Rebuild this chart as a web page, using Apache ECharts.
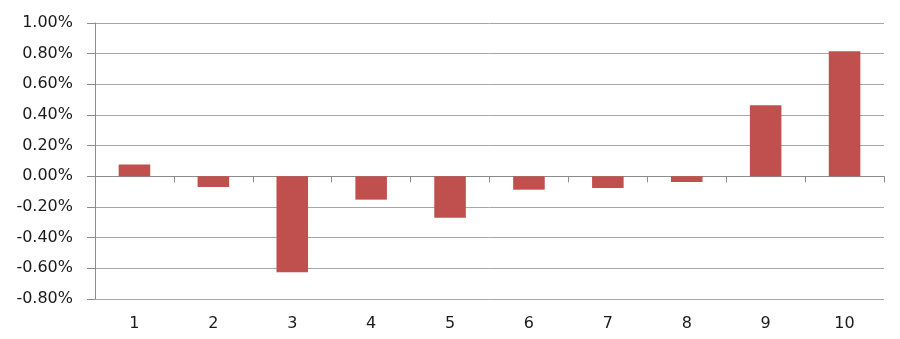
<!DOCTYPE html>
<html>
<head>
<meta charset="utf-8">
<script src="https://cdn.jsdelivr.net/npm/echarts@6/dist/echarts.min.js"></script>
<style>html,body{margin:0;padding:0;background:#fff;}#chart{width:900px;height:339px;}</style>
</head>
<body>
<div id="chart"></div>
<script>
var categories = ['1','2','3','4','5','6','7','8','9','10'];
var values = [0.077, -0.07, -0.625, -0.152, -0.27, -0.087, -0.076, -0.037, 0.463, 0.815];
var yMin = -0.8, yMax = 1.0, yStep = 0.2;

var chart = echarts.init(document.getElementById('chart'));
var font = 'DejaVu Sans';
chart.setOption({
  animation: false,
  grid: { left: 95, right: 16, top: 23, bottom: 40 },
  xAxis: [
    {
      type: 'category', data: categories, boundaryGap: true,
      axisLine: { onZero: true, lineStyle: { color: '#8c8c8c', width: 1 } },
      axisTick: { show: true, length: 6, inside: false, lineStyle: { color: '#8c8c8c' } },
      axisLabel: { show: false },
      splitLine: { show: false }
    },
    {
      type: 'category', data: categories, position: 'bottom', boundaryGap: true,
      axisLine: { show: false, onZero: false },
      axisTick: { show: false },
      axisLabel: { show: true, margin: 17, color: '#1a1a1a', fontSize: 16, fontFamily: font },
      splitLine: { show: false }
    }
  ],
  yAxis: {
    type: 'value', min: yMin, max: yMax, interval: yStep,
    axisLine: { show: true, lineStyle: { color: '#8c8c8c' } },
    axisTick: { show: true, length: 8, lineStyle: { color: '#8c8c8c' } },
    axisLabel: { margin: 22, color: '#1a1a1a', fontSize: 16, fontFamily: font,
      formatter: function (v) { return v.toFixed(2) + '%'; } },
    splitLine: { show: true, lineStyle: { color: '#a6a6a6', width: 1 } }
  },
  series: [{
    type: 'bar', xAxisIndex: 0, data: values, barWidth: '40%',
    itemStyle: { color: '#C0504D' }
  }]
});
</script>
</body>
</html>
